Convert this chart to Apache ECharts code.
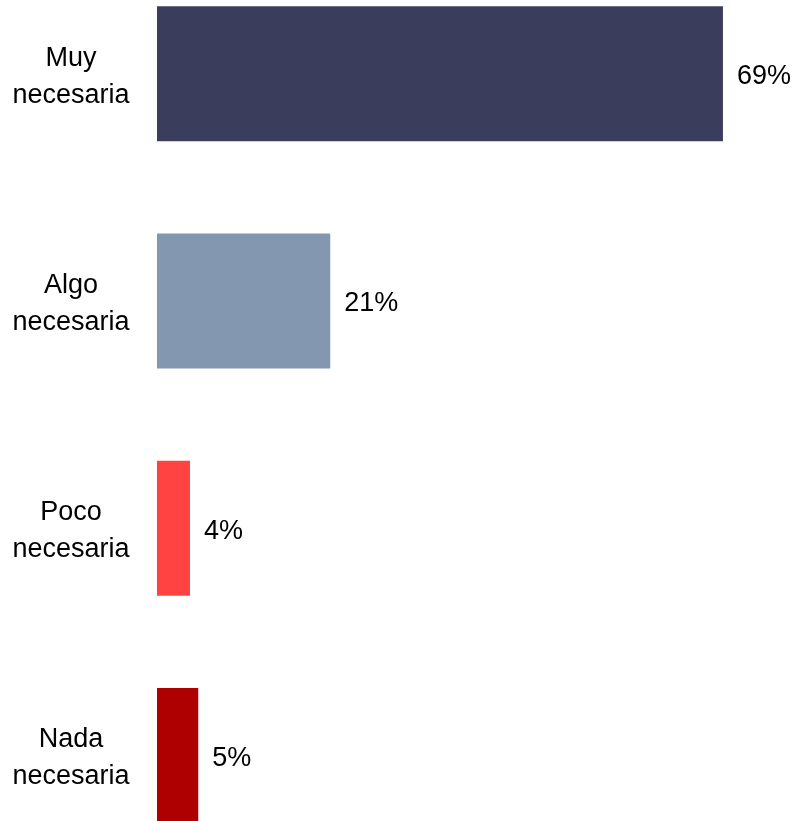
<!DOCTYPE html>
<html>
<head>
<meta charset="utf-8">
<script src="https://cdn.jsdelivr.net/npm/echarts@6/dist/echarts.min.js"></script>
<style>
html,body{margin:0;padding:0;background:#fff;}
#chart{width:794px;height:821px;}
</style>
</head>
<body>
<div id="chart"></div>
<script>
const categories = ["Muy\nnecesaria", "Algo\nnecesaria", "Poco\nnecesaria", "Nada\nnecesaria"];
const values = [68.6, 21.0, 4.0, 5.0];
const colors = ["#3A3D5B", "#8497B0", "#FF4343", "#AE0000"];

const FONT = '"Liberation Sans Narrow", "Arial Narrow", "Liberation Sans", Arial, sans-serif';

const chart = echarts.init(document.getElementById('chart'), null, {renderer: 'canvas'});
chart.setOption({
  animation: false,
  backgroundColor: '#ffffff',
  grid: {left: 157, top: -40, width: 660, height: 909, containLabel: false, outerBoundsMode: 'none'},
  xAxis: {
    type: 'value', min: 0, max: 80,
    show: false
  },
  yAxis: {
    type: 'category',
    data: categories,
    inverse: true,
    axisLine: {show: false},
    axisTick: {show: false},
    splitLine: {show: false},
    axisLabel: {
      align: 'center',
      margin: 86,
      color: '#000',
      fontFamily: FONT,
      fontSize: 27,
      lineHeight: 37,
      formatter: v => '{pad|}\n' + v,
      rich: {
        pad: {height: 6, lineHeight: 6, fontSize: 1}
      }
    }
  },
  series: [{
    type: 'bar',
    barWidth: 135,
    data: values.map((v, i) => ({value: v, itemStyle: {color: colors[i]}})),
    label: {
      show: true,
      position: 'right',
      distance: 14,
      offset: [0, 3],
      color: '#000',
      fontFamily: FONT,
      fontSize: 27,
      formatter: p => Math.round(p.value) + '%'
    }
  }]
});
</script>
</body>
</html>
